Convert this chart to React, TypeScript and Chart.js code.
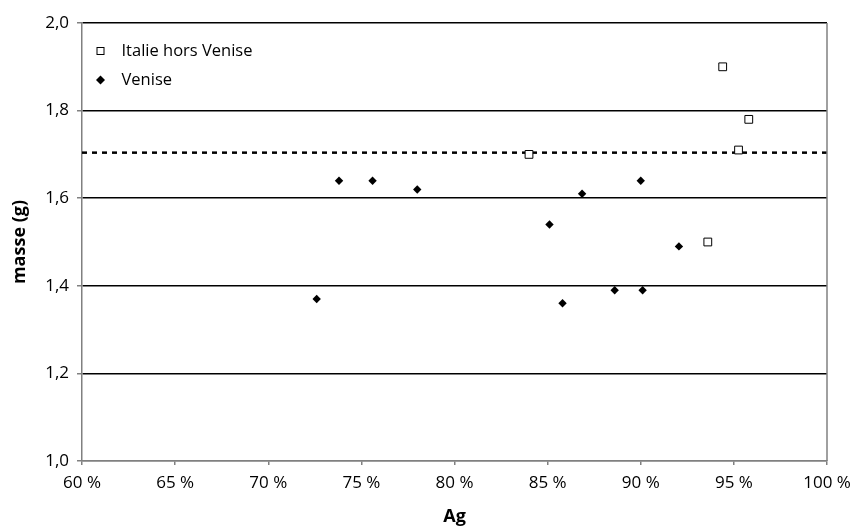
import React, { useEffect, useRef } from "react";
import { Chart, registerables } from "chart.js";

Chart.register(...registerables);

const italieX = [84.0, 93.6, 94.4, 95.25, 95.8];
const italieY = [1.70, 1.50, 1.90, 1.71, 1.78];
const veniseX = [72.6, 73.8, 75.6, 78.0, 85.1, 85.8, 86.85, 88.6, 90.0, 90.1, 92.05];
const veniseY = [1.37, 1.64, 1.64, 1.62, 1.54, 1.36, 1.61, 1.39, 1.64, 1.39, 1.49];
const refLineY = 1.704;
const xRange = [60, 100];
const yRange = [1.0, 2.0];
const seriesNames = ["Italie hors Venise", "Venise"];
const FONT = "'Open Sans', sans-serif";

export default function App() {
  const ref = useRef<HTMLCanvasElement>(null);
  useEffect(() => {
    if (!ref.current) return;
    const frame = {
      id: "frame",
      afterDatasetsDraw(chart: any) {
        const { ctx, chartArea: a } = chart;
        ctx.save();
        ctx.strokeStyle = "#808080";
        ctx.lineWidth = 1.5;
        ctx.beginPath();
        ctx.moveTo(a.right, a.top);
        ctx.lineTo(a.right, a.bottom);
        ctx.stroke();
        // legend
        const lx = a.left + 18.5;
        const ly1 = a.top + 28;
        const ly2 = a.top + 57;
        ctx.fillStyle = "#fff";
        ctx.strokeStyle = "#000";
        ctx.lineWidth = 1;
        ctx.fillRect(lx - 3.5, ly1 - 3.5, 7, 7);
        ctx.strokeRect(lx - 3.5, ly1 - 3.5, 7, 7);
        ctx.fillStyle = "#000";
        ctx.beginPath();
        ctx.moveTo(lx, ly2 - 4.5);
        ctx.lineTo(lx + 4.5, ly2);
        ctx.lineTo(lx, ly2 + 4.5);
        ctx.lineTo(lx - 4.5, ly2);
        ctx.closePath();
        ctx.fill();
        ctx.font = "16.5px " + FONT;
        ctx.textBaseline = "middle";
        ctx.textAlign = "left";
        ctx.fillText(seriesNames[0], lx + 21, ly1);
        ctx.fillText(seriesNames[1], lx + 21, ly2);
        ctx.restore();
      },
    };
    const chart = new Chart(ref.current, {
      type: "scatter",
      data: {
        datasets: [
          {
            label: "ref",
            type: "line",
            data: [
              { x: xRange[0], y: refLineY },
              { x: xRange[1], y: refLineY },
            ],
            borderColor: "#000",
            borderWidth: 2.5,
            borderDash: [5, 5],
            pointRadius: 0,
            order: 3,
          } as any,
          {
            label: seriesNames[0],
            data: italieX.map((x, i) => ({ x, y: italieY[i] })),
            pointStyle: "rect",
            pointRadius: 5.5,
            backgroundColor: "#fff",
            borderColor: "#000",
            borderWidth: 1,
            order: 1,
          },
          {
            label: seriesNames[1],
            data: veniseX.map((x, i) => ({ x, y: veniseY[i] })),
            pointStyle: "rectRot",
            pointRadius: 4.2,
            backgroundColor: "#000",
            borderColor: "#000",
            borderWidth: 0,
            order: 2,
          },
        ],
      },
      options: {
        animation: false,
        responsive: true,
        maintainAspectRatio: false,
        layout: { padding: { left: 0, right: 35, top: 23, bottom: 0 } },
        plugins: { legend: { display: false }, tooltip: { enabled: false } },
        scales: {
          x: {
            type: "linear",
            min: xRange[0],
            max: xRange[1],
            afterFit: (s: any) => {
              s.height = 70;
            },
            ticks: {
              stepSize: 5,
              color: "#000",
              font: { family: FONT, size: 17 },
              padding: 8,
              callback: (v: any) => `${v} %`,
            },
            grid: { drawOnChartArea: false, color: "#808080", tickLength: 4, lineWidth: 1.5 },
            border: { color: "#808080", width: 1.5 },
            title: {
              display: true,
              text: "Ag",
              color: "#000",
              font: { family: FONT, size: 18, weight: "bold" },
              padding: { top: 0, bottom: 3 },
            },
          },
          y: {
            type: "linear",
            min: yRange[0],
            max: yRange[1],
            afterFit: (s: any) => {
              s.width = 82;
            },
            ticks: {
              stepSize: 0.2,
              color: "#000",
              font: { family: FONT, size: 17 },
              padding: 8,
              callback: (v: any) => Number(v).toFixed(1).replace(".", ","),
            },
            grid: {
              color: (c: any) => (c.tick && c.tick.value === yRange[0] ? "#808080" : "#000"),
              lineWidth: 1.5,
              tickLength: 5,
              tickColor: "#808080",
            } as any,
            border: { color: "#808080", width: 1.5 },
            title: {
              display: true,
              text: "masse (g)",
              color: "#000",
              font: { family: FONT, size: 18, weight: "bold" },
              padding: { top: 9, bottom: 4 },
            },
          },
        },
      },
      plugins: [frame],
    });
    return () => chart.destroy();
  }, []);
  return (
    <div style={{ position: "fixed", left: 0, top: 0, width: 862, height: 531, background: "#fff" }}>
      <canvas ref={ref} />
    </div>
  );
}
